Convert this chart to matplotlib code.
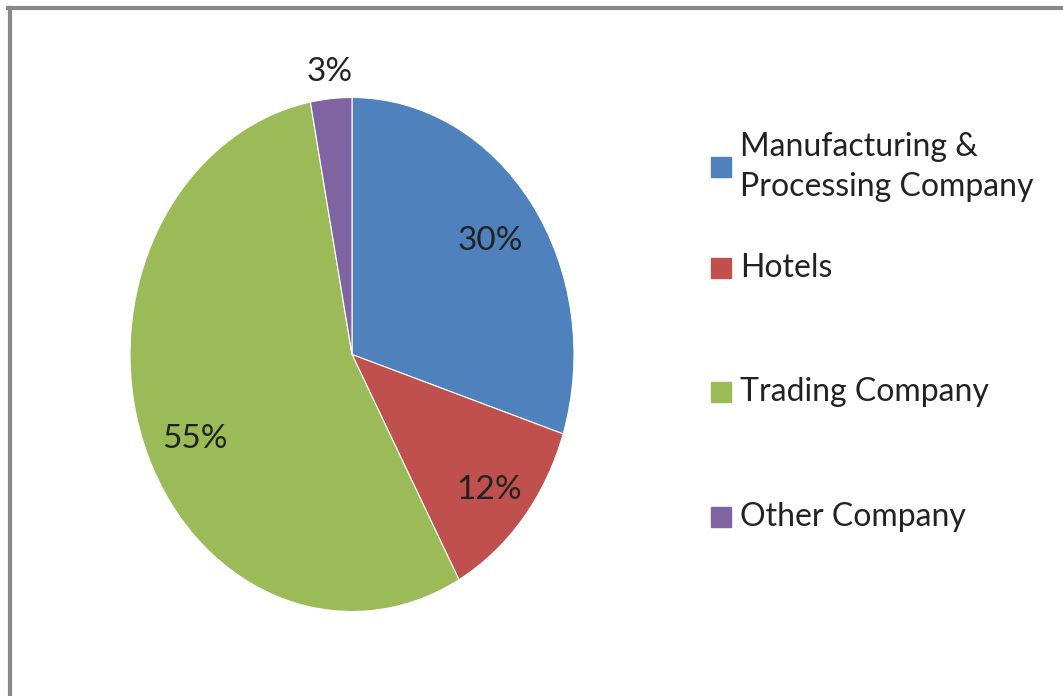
import matplotlib
matplotlib.use("Agg")
import matplotlib.pyplot as plt
from matplotlib.patches import Rectangle
from matplotlib.lines import Line2D
import numpy as np

labels = ["Manufacturing &\nProcessing Company", "Hotels", "Trading Company", "Other Company"]
values = [30, 12, 55, 3]
pct_labels = ["30%", "12%", "55%", "3%"]
colors = ["#4F81BD", "#C0504D", "#9BBB59", "#8064A2"]
label_dist = [0.77, 0.80, 0.80, 1.10]
label_nudge_px = [(0, 3), (0, 4), (10, 15), (1, -1)]

W, H = 1063, 696
fig = plt.figure(figsize=(W / 100, H / 100), dpi=100)
plt.rcParams['font.family'] = ['Lato', 'DejaVu Sans']

def fx(px):
    return px / W

def fy(py):
    return 1 - py / H

# border (top and left only visible)
fig.add_artist(Line2D([fx(9.5), fx(9.5)], [fy(8), fy(696)], color="#888888", lw=3, transform=fig.transFigure))
fig.add_artist(Line2D([fx(8), fx(1063)], [fy(7.5), fy(7.5)], color="#888888", lw=3, transform=fig.transFigure))

# pie axes covering the ellipse
cx, cy, rx, ry = 352, 354.5, 222, 257
ax = fig.add_axes([fx(cx - rx), fy(cy + ry), fx(2 * rx), (2 * ry) / H])
wedges, _ = ax.pie(values, colors=colors, startangle=90, counterclock=False,
                   radius=1, wedgeprops=dict(linewidth=0.8, edgecolor="white"))
ax.set_aspect('auto')
ax.set_xlim(-1, 1)
ax.set_ylim(-1, 1)
ax.axis('off')

for w, lab, d, (nx, ny) in zip(wedges, pct_labels, label_dist, label_nudge_px):
    ang = np.deg2rad((w.theta1 + w.theta2) / 2)
    ax.annotate(lab, xy=(d * np.cos(ang), d * np.sin(ang)), xytext=(nx * 0.72, -ny * 0.72),
                textcoords='offset points', ha='center', va='center',
                fontsize=24, color='#222222', annotation_clip=False)

# legend
entry_y = [167, 268, 392, 517]
for lab, col, y in zip(labels, colors, entry_y):
    fig.add_artist(Rectangle((fx(711), fy(y + 10)), fx(20), 20 / H, color=col,
                             transform=fig.transFigure))
    fig.text(fx(740), fy(y), lab, ha='left', va='center', fontsize=23,
             color='#222222', linespacing=1.4)

fig.savefig("out.png", dpi=100, facecolor="white")
